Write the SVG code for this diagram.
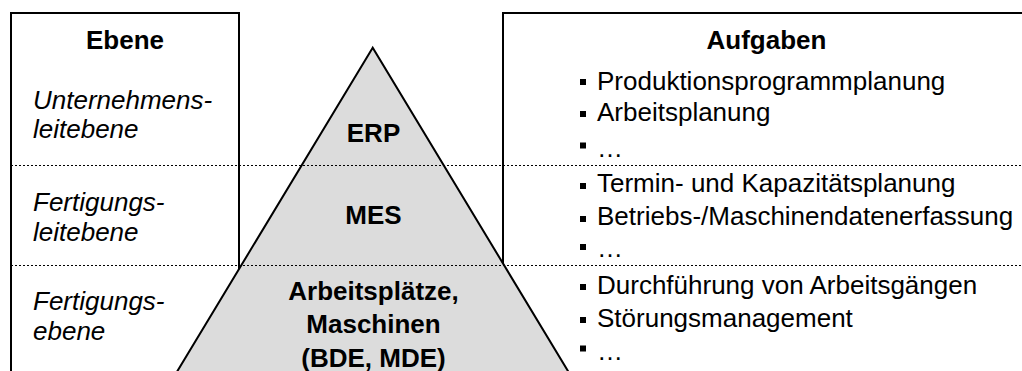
<svg xmlns="http://www.w3.org/2000/svg" width="1022" height="371" viewBox="0 0 1022 371">
  <style>
    text { font-family: "Liberation Sans", Arial, Helvetica, sans-serif; font-size: 26px; fill: #000; }
    .head { font-weight: bold; text-anchor: middle; }
    .level { font-style: italic; }
    .layer { font-weight: bold; text-anchor: middle; }
    .frame { fill: #fff; stroke: #000; stroke-width: 2; }
    .sep { fill: none; stroke: #000; stroke-width: 1; stroke-dasharray: 2 2; }
    .bullet { fill: #000; }
  </style>

  <rect width="1022" height="371" fill="#fff"/>

  <!-- column frames, open at the bottom (and right) -->
  <g id="frame-ebene">
    <path class="frame" d="M11,380 V13 H239 V380"/>
  </g>
  <g id="frame-aufgaben">
    <path class="frame" d="M503,380 V13 H1030 V380"/>
  </g>

  <!-- pyramid -->
  <g id="pyramid">
    <polygon points="372.7,47.7 172,380 573.4,380" fill="#dcdcdc" stroke="#000" stroke-width="2" stroke-linejoin="miter"/>
  </g>

  <!-- dotted level separators -->
  <g id="connectors">
    <line class="sep" x1="11" y1="165.5" x2="1022" y2="165.5"/>
    <line class="sep" x1="11" y1="265.5" x2="1022" y2="265.5"/>
  </g>

  <!-- left column: levels -->
  <g id="ebene-header">
    <text class="head" x="125" y="48.5">Ebene</text>
  </g>
  <g id="level-unternehmensleitebene">
    <text class="level" x="33" y="108.5">Unternehmens-</text>
    <text class="level" x="33" y="138">leitebene</text>
  </g>
  <g id="level-fertigungsleitebene">
    <text class="level" x="33" y="211">Fertigungs-</text>
    <text class="level" x="33" y="240.5">leitebene</text>
  </g>
  <g id="level-fertigungsebene">
    <text class="level" x="33" y="309.5">Fertigungs-</text>
    <text class="level" x="33" y="340">ebene</text>
  </g>

  <!-- pyramid layers -->
  <g id="layer-erp">
    <text class="layer" x="373.5" y="141.5">ERP</text>
  </g>
  <g id="layer-mes">
    <text class="layer" x="373.5" y="223.5">MES</text>
  </g>
  <g id="layer-arbeitsplaetze">
    <text class="layer" x="373.5" y="299.5">Arbeitsplätze,</text>
    <text class="layer" x="373.5" y="333">Maschinen</text>
    <text class="layer" x="373.5" y="366.5">(BDE, MDE)</text>
  </g>

  <!-- right column: tasks -->
  <g id="aufgaben-header">
    <text class="head" x="766.5" y="49">Aufgaben</text>
  </g>
  <g id="tasks-erp">
    <rect class="bullet" x="580" y="79" width="6" height="6"/>
    <text x="597" y="89.5">Produktionsprogrammplanung</text>
    <rect class="bullet" x="580" y="111" width="6" height="6"/>
    <text x="597" y="121">Arbeitsplanung</text>
    <rect class="bullet" x="580" y="142.5" width="6" height="6"/>
    <text x="597" y="157">…</text>
  </g>
  <g id="tasks-mes">
    <rect class="bullet" x="580" y="183" width="6" height="6"/>
    <text x="597" y="192">Termin- und Kapazitätsplanung</text>
    <rect class="bullet" x="580" y="216" width="6" height="6"/>
    <text x="597" y="225">Betriebs-/Maschinendatenerfassung</text>
    <rect class="bullet" x="580" y="244" width="6" height="6"/>
    <text x="597" y="257">…</text>
  </g>
  <g id="tasks-fertigung">
    <rect class="bullet" x="580" y="284" width="6" height="6"/>
    <text x="597" y="293.5">Durchführung von Arbeitsgängen</text>
    <rect class="bullet" x="580" y="317" width="6" height="6"/>
    <text x="597" y="326.5">Störungsmanagement</text>
    <rect class="bullet" x="580" y="345.5" width="6" height="6"/>
    <text x="597" y="360">…</text>
  </g>
</svg>
